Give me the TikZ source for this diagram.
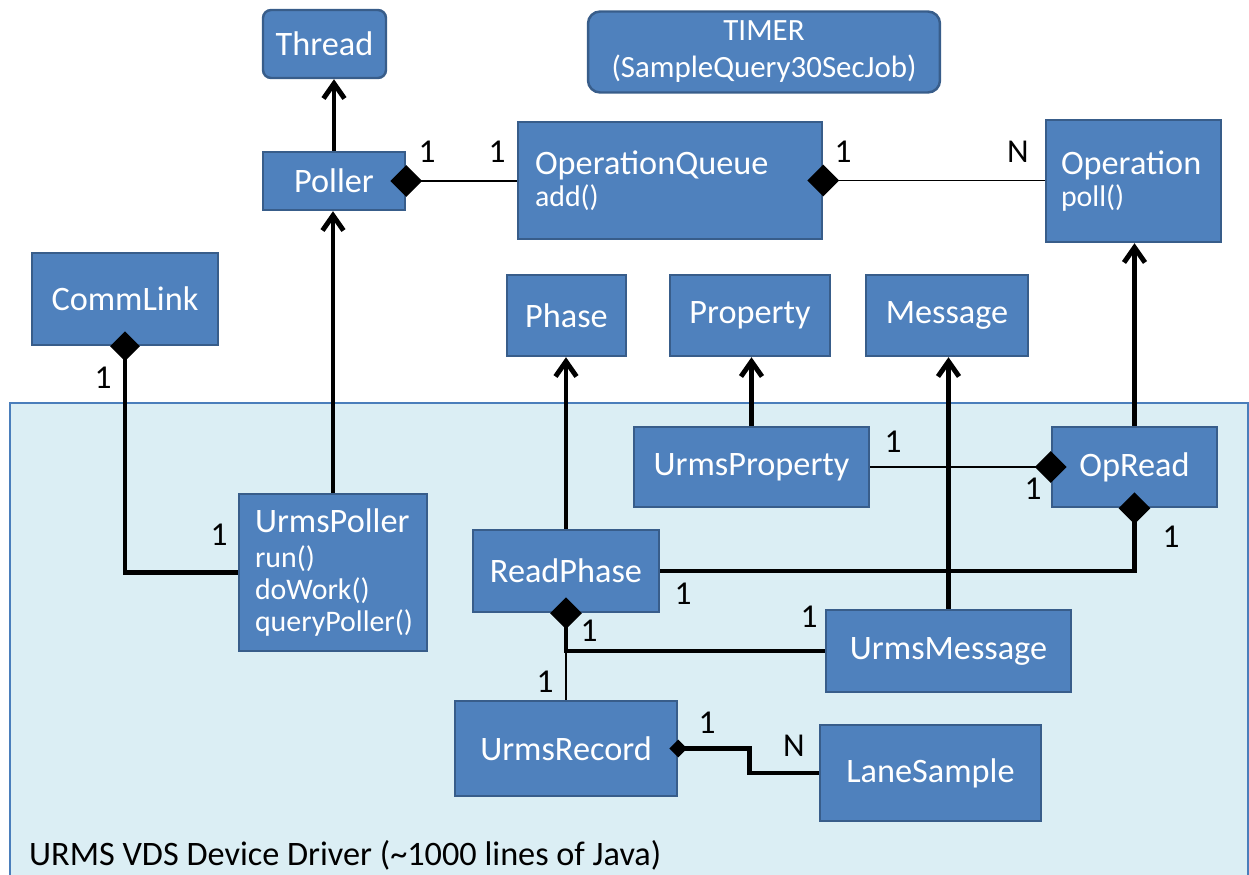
\documentclass[tikz,border=0pt]{standalone}
\usepackage{fontspec}
\setmainfont{Carlito}
\usetikzlibrary{arrows.meta,shapes.geometric}
\definecolor{clsfill}{HTML}{4F81BD}
\definecolor{clsedge}{HTML}{385D8A}
\definecolor{pkgfill}{HTML}{DBEEF4}
\definecolor{pkgedge}{HTML}{4A7EBB}
\newcommand{\opsfont}{\fontsize{17}{18}\selectfont}
\tikzset{
  cls/.style={draw=clsedge, fill=clsfill, line width=1.4pt, text=white,
    font=\fontsize{19.5}{18}\selectfont, inner sep=0pt},
  thinlink/.style={line width=0.7pt},
  thicklink/.style={line width=2.8pt},
  isa/.style={line width=2.8pt, -{Straight Barb[length=0.3cm,width=0.42cm]}},
  dmd/.style={diamond, fill=black, inner sep=0pt, minimum width=#1, minimum height=#1},
  dmd/.default=0.64cm,
  mult/.style={font=\fontsize{19}{22}\selectfont},
}
\begin{document}
\begin{tikzpicture}[x=0.02cm, y=-0.02cm]
  \useasboundingbox (0,0) rectangle (1249,875);
  % driver package
  \draw[draw=pkgedge, fill=pkgfill, line width=1.4pt] (10,403) rectangle (1248,900);
  \node[anchor=west, font=\fontsize{19.5}{23}\selectfont] (pkglabel) at (23,855) {URMS VDS Device Driver (\textasciitilde1000 lines of Java)};

  % classes outside
  \node[cls, rounded corners=0.16cm, minimum width=2.46cm, minimum height=1.36cm] (thread) at (324.5,44) {Thread};
  \node[cls, rounded corners=0.24cm, minimum width=7.04cm, minimum height=1.62cm, align=center,
    font=\fontsize{17.6}{21}\selectfont] (timer) at (764,52) {TIMER\\(SampleQuery30SecJob)};
  \node[cls, minimum width=2.84cm, minimum height=1.16cm] (poller) at (334,181) {Poller};
  \node[cls, minimum width=6.08cm, minimum height=2.34cm, text width=5.4cm, align=left] (opqueue) at (670,180.5)
    {OperationQueue\\{\opsfont add()}};
  \node[cls, minimum width=3.5cm, minimum height=2.44cm, text width=2.9cm, align=left] (operation) at (1133.5,181)
    {Operation\\{\opsfont poll()}};
  \node[cls, minimum width=3.72cm, minimum height=1.84cm] (commlink) at (125,299) {CommLink};
  \node[cls, minimum width=2.38cm, minimum height=1.62cm] (phase) at (566.5,315.5) {Phase};
  \node[cls, minimum width=3.2cm, minimum height=1.62cm] (property) at (750,315.5) {Property};
  \node[cls, minimum width=3.24cm, minimum height=1.62cm] (message) at (947,315.5) {Message};

  % classes inside the driver
  \node[cls, minimum width=4.7cm, minimum height=1.6cm] (uprop) at (751.5,467) {UrmsProperty};
  \node[cls, minimum width=3.3cm, minimum height=1.6cm] (opread) at (1134.5,467) {OpRead};
  \node[cls, minimum width=3.76cm, minimum height=3.14cm, text width=3.12cm, align=left] (upoller) at (333,572.5)
    {UrmsPoller\\[2pt]{\opsfont run()}\\{\opsfont doWork()}\\{\opsfont queryPoller()}};
  \node[cls, minimum width=3.72cm, minimum height=1.64cm] (rphase) at (566,571) {ReadPhase};
  \node[cls, minimum width=4.9cm, minimum height=1.64cm] (umsg) at (948.5,651) {UrmsMessage};
  \node[cls, minimum width=4.44cm, minimum height=1.9cm] (urecord) at (566,748.5) {UrmsRecord};
  \node[cls, minimum width=4.42cm, minimum height=1.92cm] (lane) at (930.5,773) {LaneSample};

  % inheritance
  \draw[isa] (poller.north) -- (poller.north |- thread.south);
  \draw[isa] (upoller.north) -- (upoller.north |- poller.south);
  \draw[isa] (opread.north) -- (opread.north |- operation.south);
  \draw[isa] (rphase.north) -- (rphase.north |- phase.south);
  \draw[isa] (uprop.north) -- (uprop.north |- property.south);
  \draw[isa] (umsg.north) -- (umsg.north |- message.south);

  % associations
  \draw[thinlink] (poller.east) -- (poller.east -| opqueue.west);
  \draw[thinlink] (opqueue.east) -- (opqueue.east -| operation.west);
  \draw[thinlink] (uprop.east) -- (opread.west);
  \draw[thicklink] (commlink.south) |- (upoller.west);
  \draw[thicklink] (rphase.east) -| (opread.south);
  \draw[thicklink] (rphase.south) |- (umsg.west);
  \coordinate (rjoin) at (rphase.south |- umsg.west);
  \draw[thinlink] (rjoin) -- (urecord.north);
  \draw[thicklink] (urecord.east) -- ++(71,0) |- (lane.west);

  % aggregation diamonds
  \node[dmd] (dpoller) at (poller.east) {};
  \node[dmd] (dopqueue) at (opqueue.east) {};
  \node[dmd=0.6cm] (dcomm) at (commlink.south) {};
  \node[dmd] (dopreadw) at (opread.west) {};
  \node[dmd] (dopreads) at (opread.south) {};
  \node[dmd] (drphase) at (rphase.south) {};
  \node[dmd=0.36cm] (drecord) at (urecord.east) {};

  % multiplicities
  \node[mult] (m1) at (427,152) {1};
  \node[mult] (m2) at (497,152) {1};
  \node[mult] (m3) at (843,152) {1};
  \node[mult] (m4) at (1018,152) {N};
  \node[mult] (m5) at (103,378) {1};
  \node[mult] (m6) at (219,535) {1};
  \node[mult] (m7) at (893,442) {1};
  \node[mult] (m8) at (1033,489) {1};
  \node[mult] (m9) at (683,594) {1};
  \node[mult] (m10) at (1171,537) {1};
  \node[mult] (m11) at (589,631) {1};
  \node[mult] (m12) at (809,617) {1};
  \node[mult] (m13) at (545,682) {1};
  \node[mult] (m14) at (707,723) {1};
  \node[mult] (m15) at (794,746) {N};
\end{tikzpicture}
\end{document}
